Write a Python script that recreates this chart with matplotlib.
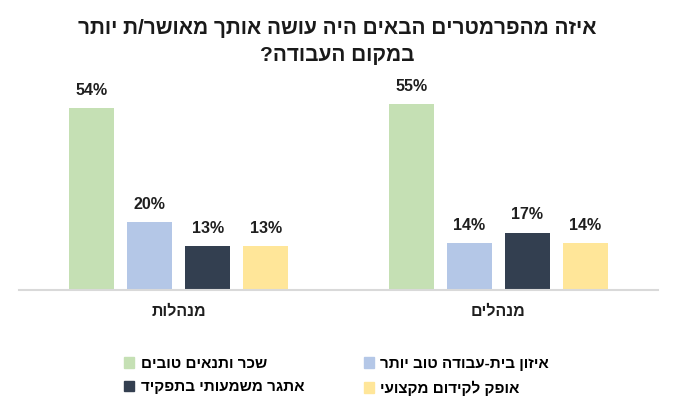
import matplotlib
matplotlib.use("Agg")
import matplotlib.pyplot as plt
from matplotlib.patches import Patch
import numpy as np

plt.rcParams['font.family'] = ['Liberation Sans', 'DejaVu Sans']

# Data (logical Hebrew order; reversed for display since matplotlib has no bidi)
TITLE_LINES = ['איזה מהפרמטרים הבאים היה עושה אותך מאושר/ת יותר', 'במקום העבודה?']
categories = ['מנהלות', 'מנהלים']
series_names = ['שכר ותנאים טובים', 'איזון בית-עבודה טוב יותר',
                'אתגר משמעותי בתפקיד', 'אופק לקידום מקצועי']
salary = [54, 55]
balance = [20, 14]
challenge = [13, 17]
promotion = [13, 14]

COLORS = ['#C5E0B4', '#B4C7E7', '#333F50', '#FFE699']


def rtl(text):
    # crude visual ordering for right-to-left text
    return text[::-1]


fig = plt.figure(figsize=(6.75, 4.05), dpi=100)
ax = fig.add_axes([0.028, 0.284, 0.947, 0.50])

x = np.arange(len(categories))
width = 0.142
pitch = 0.1815
series = [salary, balance, challenge, promotion]
for i, (vals, color) in enumerate(zip(series, COLORS)):
    offs = (i - 1.5) * pitch
    ax.bar(x + offs, vals, width, color=color)
    for xi, v in zip(x + offs, vals):
        ax.text(xi, v + 3, f'{v}%', ha='center', va='bottom',
                fontsize=11.5, fontweight='bold', color='#1f1f1f')

ax.set_xlim(-0.5, 1.5)
ax.set_ylim(0, 60)
ax.set_yticks([])
ax.set_xticks(x)
ax.set_xticklabels([rtl(c) for c in categories], fontsize=11.5, fontweight='bold', color='#1f1f1f')
ax.tick_params(axis='x', length=0, pad=10)
for side in ['top', 'left', 'right']:
    ax.spines[side].set_visible(False)
ax.spines['bottom'].set_color('#D9D9D9')
ax.spines['bottom'].set_linewidth(1.5)

fig.text(0.5, 0.930, rtl(TITLE_LINES[0]), ha='center', va='center',
         fontsize=15, fontweight='bold', color='#1a1a1a')
fig.text(0.5, 0.862, rtl(TITLE_LINES[1]), ha='center', va='center',
         fontsize=15, fontweight='bold', color='#1a1a1a')

# legend: column-major fill -> green, dark | blue, yellow
order = [0, 2, 1, 3]
handles = [Patch(color=COLORS[i]) for i in order]
labels = [rtl(series_names[i]) for i in order]
fig.legend(handles, labels, ncol=2, loc='upper left', bbox_to_anchor=(0.163, 0.152),
           frameon=False, handlelength=0.7, handleheight=0.7, handletextpad=0.4,
           columnspacing=3.9, labelspacing=0.6,
           prop={'size': 11, 'weight': 'bold'})

fig.savefig('out.png', dpi=100)
